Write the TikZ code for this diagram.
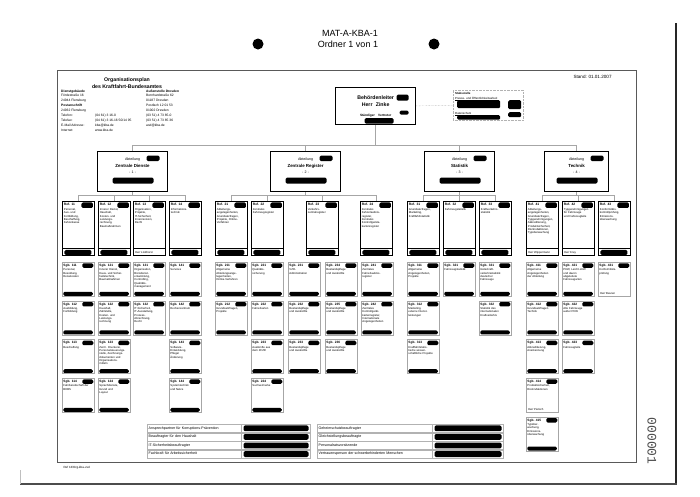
\documentclass[tikz,border=0pt]{standalone}
\usepackage{fontspec}
\setmainfont{Liberation Sans}
\newfontfamily\stampfont{Liberation Mono}
\usetikzlibrary{positioning}

\newcommand{\sgbfont}{\fontsize{2.8}{3.35}\selectfont}
\newcommand{\sgbhead}[1]{{\bfseries\fontsize{3.2}{3.35}\selectfont Sgb. #1}\\[0.9pt]}
\newcommand{\refhead}[1]{{\bfseries\fontsize{3.3}{3.35}\selectfont Ref. #1}\\[1.2pt]}
\newcommand{\divtext}[2]{Abteilung\\{\bfseries\fontsize{4.4}{6.5}\selectfont #1}\\- #2 -}
% redaction blob inside a node, measured from its north west / north corner
\newcommand{\ppblob}[4]{\fill[blob] ([shift={(#1pt,-#2pt)}]path picture bounding box.north west)
  rectangle ([shift={(#3pt,-#4pt)}]path picture bounding box.north west);}
\newcommand{\ppblobn}[4]{\fill[blob] ([shift={(#1pt,-#2pt)}]path picture bounding box.north)
  rectangle ([shift={(#3pt,-#4pt)}]path picture bounding box.north);}

\tikzset{
  blob/.style={fill=black, rounded corners=1.4pt},
  conn/.style={draw=gray!70, line width=0.45pt},
  addr/.style={anchor=north west, inner sep=0pt, align=left, font=\fontsize{3.3}{4.9}\selectfont},
  signame/.style={anchor=south west, inner sep=0pt, font=\fontsize{2.8}{3}\selectfont},
  bossbox/.style={draw, line width=1.3pt, anchor=north west, text width=76pt, inner sep=2pt,
    text height=9.5pt, text depth=23.5pt, align=center, font=\bfseries,
    path picture={\ppblob{61}{7}{73}{13}\ppblob{64}{23}{73}{27}\ppblob{29}{30.5}{58}{36}}},
  stabbox/.style={draw=gray!60, densely dotted, anchor=north west, text width=66pt, inner sep=2pt,
    text height=2.5pt, text depth=23.5pt, align=left, font=\fontsize{2.9}{4.5}\selectfont,
    path picture={\ppblob{4}{10}{47}{18}\ppblob{55}{10}{68}{19}\ppblob{4}{25}{47}{29.5}\ppblob{55}{22}{68}{27}}},
  divbox/.style={draw, line width=1.1pt, anchor=north west, text width=#1, inner sep=2pt,
    text height=7pt, text depth=29pt, align=center, font=\fontsize{3.6}{6.5}\selectfont,
    path picture={\ppblobn{14}{4}{27}{9.5}\ppblobn{-20}{26}{21}{32}}},
  divbox/.default=66pt,
  refbase/.style={draw, line width=0.9pt, anchor=north west, text width=29pt, inner sep=1.5pt,
    text height=3pt, text depth=48pt, align=left, font=\sgbfont},
  refname/.style={refbase, path picture={
      \ppblob{19}{1}{30.5}{6.5}
      \draw[line width=0.7pt] ([yshift=7pt]path picture bounding box.south west) -- ([yshift=7pt]path picture bounding box.south east);}},
  refbox/.style={refbase, path picture={
      \ppblob{19}{1}{30.5}{6.5}
      \draw[line width=0.7pt] ([yshift=7pt]path picture bounding box.south west) -- ([yshift=7pt]path picture bounding box.south east);
      \ppblob{2}{48.5}{29}{53.5}}},
  sgbbase/.style={draw=gray!70, line width=0.5pt, anchor=north west, text width=29.6pt, inner sep=1.2pt,
    text height=3pt, text depth=28.6pt, align=left, font=\sgbfont},
  sgbname/.style={sgbbase, path picture={\ppblob{20}{1}{31}{5.5}}},
  sgbbox/.style={sgbbase, path picture={\ppblob{20}{1}{31}{5.5}\ppblob{1}{29.5}{30.5}{33.5}}},
  tabcell/.style={draw=gray!60, line width=0.35pt, anchor=north west, inner xsep=1.5pt, inner ysep=0pt,
    text width=#1, minimum height=8.25pt, text height=2.6pt, text depth=0.9pt, align=left,
    font=\fontsize{3.6}{4}\selectfont},
  tabred/.style={draw=gray!60, line width=0.35pt, minimum width=#1, minimum height=8.25pt, inner sep=0pt,
    path picture={\fill[blob] ([shift={(2pt,-1.2pt)}]path picture bounding box.north west)
      rectangle ([shift={(-2pt,1.2pt)}]path picture bounding box.south east);}},
}

\begin{document}
\begin{tikzpicture}[x=1pt, y=-1pt]
  \fill[white] (0,0) rectangle (700,496);
  \useasboundingbox (0,0) rectangle (700,496);

  % scan edges and punch holes
  \draw[line width=1.8pt, black!85] (676,23) -- (676,484);
  \draw[line width=1.4pt, black!70] (20,484) -- (677,484);
  \draw[gray!50, line width=0.5pt] (20,470) -- (20,484);
  \fill (258,44) circle (5.5pt);
  \fill (434,44) circle (5.5pt);
  \node[font=\fontsize{9}{10}\selectfont] (matnr) at (350,33) {MAT-A-KBA-1};
  \node[font=\fontsize{9}{10}\selectfont] (ordner) at (348,44) {Ordner 1 von 1};
  \node[font=\stampfont\fontsize{13}{13}\selectfont, rotate=-90, text=black!70] (stamp) at (652,441) {000001};

  % sheet frame
  \draw[black!65, line width=0.7pt] (57,70) rectangle (636,462);
  \node[anchor=west, font=\fontsize{4.6}{5}\selectfont] (stand) at (570,77) {Stand: 01.01.2007};
  \node[font=\bfseries\fontsize{5.2}{7}\selectfont, align=center] (orgtitle) at (127,83.5) {Organisationsplan\\des Kraftfahrt-Bundesamtes};
  \node[addr] (addrhq) at (61,89.5) {\textbf{Dienstgebäude}\\Fördestraße 16\\24944 Flensburg\\\textbf{Postanschrift}\\24932 Flensburg\\Telefon:\\Telefax:\\E-Mail Adresse:\\Internet:};
  \node[addr] (addrtel) at (95,114) {(04 61) 3 16-0\\(04 61) 3 16-16 50/14 95\\kba@kba.de\\www.kba.de};
  \node[addr] (addrdd) at (146,89.5) {\textbf{Außenstelle Dresden}\\Bernhardstraße 62\\01187 Dresden\\Postfach 12 01 53\\01002 Dresden\\(03 51) 4 73 85-0\\(03 51) 4 73 85 36\\asd@kba.de};

  % head of authority and staff unit
  \node[bossbox] (boss) at (335,87) {\fontsize{5.2}{7.5}\selectfont Behördenleiter\\Herr Zinke\\[-2pt]\fontsize{3.2}{7.5}\selectfont Ständiger Vertreter};
  \node[stabbox] (stab) at (453,90) {\textbf{Stabsstelle}\\\underline{Presse- und Öffentlichkeitsarbeit}\\[10.5pt]\underline{Datenschutz}};
  \draw[conn, densely dotted] (boss) -- (stab);

  % divisions
  \node[divbox] (zd) at (97,151) {\divtext{Zentrale Dienste}{1}};
  \node[divbox] (zr) at (270,151) {\divtext{Zentrale Register}{2}};
  \node[divbox] (st) at (424,151) {\divtext{Statistik}{3}};
  \node[divbox=60pt] (tk) at (544,151) {\divtext{Technik}{4}};

  \coordinate (topbus) at (0,145);
  \draw[conn] (zd.north) -- (zd.north |- topbus) -- (tk.north |- topbus) -- (tk.north);
  \foreach \d in {boss.south, zr.north, st.north}
    \draw[conn] (\d) -- (\d |- topbus);

  % Referate
  \node[refbox] (r11) at (62,201) {\refhead{11}Personal,\\Aus- und\\Fortbildung,\\Beschaffung,\\Fahrerkasse};
  \node[refbox] (r12) at (98,201) {\refhead{12}Innerer Dienst,\\Haushalt,\\Kosten- und\\Leistungs-\\rechnung,\\Baumaßnahmen};
  \node[refname] (r13) at (133,201) {\refhead{13}Organisation,\\Projekte,\\IT-Sicherheit,\\Innenrevision,\\Recht};
  \node[refbox] (r14) at (169,201) {\refhead{14}Informations-\\technik};
  \node[refbox] (r21) at (215,201) {\refhead{21}Abteilungs-\\angelegenheiten,\\Grundsatzfragen,\\Projekte, Online-\\Verfahren};
  \node[refbox] (r22) at (251,201) {\refhead{22}Zentrales\\Fahrzeugregister};
  \node[refbox] (r23) at (306,201) {\refhead{23}Verkehrs-\\zentralregister};
  \node[refbox] (r24) at (360,201) {\refhead{24}Zentrales\\Fahrerlaubnis-\\register,\\Zentrales\\Kontrollgeräte-\\kartenregister};
  \node[refbox] (r31) at (407,201) {\refhead{31}Grundsatzfragen,\\Marketing,\\Kraftfahrtstatistik};
  \node[refbox] (r32) at (443,201) {\refhead{32}Fahrzeugstatistik};
  \node[refbox] (r33) at (479,201) {\refhead{33}Kraftverkehrs-\\statistik};
  \node[refname] (r41) at (526,201) {\refhead{41}Abteilungs-\\angelegenheiten,\\Grundsatzfragen,\\Typgenehmigungen,\\Akkreditierung,\\Produktsicherheit,\\Rückrufaktionen,\\Typüberwachung};
  \node[refname] (r42) at (562,201) {\refhead{42}Typgenehmigungen\\für Fahrzeuge\\und Fahrzeugteile};
  \node[refbox] (r43) at (598,201) {\refhead{43}Konformitäts-\\kontrollprüfung,\\Emissions-\\überwachung};
  \node[signame] (r13sign) at ([shift={(1.8pt,1.8pt)}]r13.south west) {Herr Lindhorst};
  \node[signame] (r41sign) at ([shift={(1.8pt,1.8pt)}]r41.south west) {Herr Wippermann};
  \node[signame] (r42sign) at ([shift={(1.8pt,1.8pt)}]r42.south west) {Herr Krey};

  \coordinate (refbus) at (0,195);
  \draw[conn] (r11.north) -- (r11.north |- refbus) -- (r14.north |- refbus) -- (r14.north);
  \draw[conn] (r21.north) -- (r21.north |- refbus) -- (r24.north |- refbus) -- (r24.north);
  \draw[conn] (r31.north) -- (r31.north |- refbus) -- (r33.north |- refbus) -- (r33.north);
  \draw[conn] (r41.north) -- (r41.north |- refbus) -- (r43.north |- refbus) -- (r43.north);
  \foreach \d in {zd.south, zr.south, st.south, tk.south, r12.north, r13.north, r22.north, r23.north, r32.north, r42.north}
    \draw[conn] (\d) -- (\d |- refbus);

  % Sachgebiete, Abteilung 1
  \node[sgbbox] (s111) at (62,262) {\sgbhead{111}Personal,\\Besoldung,\\Reisekosten};
  \node[sgbbox, below=4.2pt of s111] (s112) {\sgbhead{112}Ausbildung,\\Fortbildung};
  \node[sgbbox, below=4.2pt of s112] (s113) {\sgbhead{113}Beschaffung};
  \node[sgbbox, below=4.2pt of s113] (s114) {\sgbhead{114}Fahrbereitschaft der\\BHBS};
  \node[sgbbox] (s121) at (98,262) {\sgbhead{121}Innerer Dienst,\\Haus- und Sicher-\\heitstechnik,\\Baumaßnahmen};
  \node[sgbbox, below=4.2pt of s121] (s122) {\sgbhead{122}Haushalt,\\Zahlstelle,\\Kosten- und\\Leistungs-\\rechnung};
  \node[sgbbox, below=4.2pt of s122] (s123) {\sgbhead{123}Zentr. Druckerei,\\Personalsteuerungs-\\stelle, Zeichnungs-\\dokumenten und\\Organisations-\\mitteln};
  \node[sgbbox, below=4.2pt of s123] (s124) {\sgbhead{124}Sprachdienste,\\Grund und\\Layout};
  \node[sgbbox] (s131) at (133,262) {\sgbhead{131}Organisation,\\Bürodienst-\\entwicklung,\\Controlling,\\Qualitäts-\\management};
  \node[sgbbox, below=4.2pt of s131] (s132) {\sgbhead{132}IT-Sicherheit,\\IT-Ausstattung,\\Prozess-\\Abrechnung,\\Recht};
  \node[sgbbox] (s141) at (169,262) {\sgbhead{141}Services};
  \node[sgbbox, below=4.2pt of s141] (s142) {\sgbhead{142}Rechenzentrum};
  \node[sgbbox, below=4.2pt of s142] (s143) {\sgbhead{143}Software-\\Entwicklung,\\Pflege/\\Änderung};
  \node[sgbbox, below=4.2pt of s143] (s144) {\sgbhead{144}Systemtechnik\\und Netze};

  % Sachgebiete, Abteilung 2
  \node[sgbbox] (s211) at (215,262) {\sgbhead{211}Allgemeine\\Abteilungsange-\\legenheiten,\\Online-Verfahren};
  \node[sgbbox, below=4.2pt of s211] (s212) {\sgbhead{212}Grundsatzfragen,\\Projekte};
  \node[sgbbox] (s221) at (251,262) {\sgbhead{221}Qualitäts-\\sicherung};
  \node[sgbbox, below=4.2pt of s221] (s222) {\sgbhead{222}Fahrerkarten};
  \node[sgbbox, below=4.2pt of s222] (s223) {\sgbhead{223}Auskünfte aus\\dem ZFZR};
  \node[sgbbox, below=4.2pt of s223] (s224) {\sgbhead{224}Suchvermerke};
  \node[sgbbox] (s231) at (288,262) {\sgbhead{231}VZR-\\Administration};
  \node[sgbbox, below=4.2pt of s231] (s232) {\sgbhead{232}Bestandspflege\\und Auskünfte};
  \node[sgbbox, below=4.2pt of s232] (s233) {\sgbhead{233}Bestandspflege\\und Auskünfte};
  \node[sgbbox] (s234) at (325,262) {\sgbhead{234}Bestandspflege\\und Auskünfte};
  \node[sgbbox, below=4.2pt of s234] (s235) {\sgbhead{235}Bestandspflege\\und Auskünfte};
  \node[sgbbox, below=4.2pt of s235] (s236) {\sgbhead{236}Bestandspflege\\und Auskünfte};
  \node[sgbbox] (s241) at (361,262) {\sgbhead{241}Zentrales\\Fahrerlaubnis-\\register};
  \node[sgbbox, below=4.2pt of s241] (s242) {\sgbhead{242}Zentrales\\Kontrollgerät-\\kartenregister,\\Internationale\\Angelegenheiten};

  % Sachgebiete, Abteilung 3
  \node[sgbbox] (s311) at (407,262) {\sgbhead{311}Allgemeine\\Angelegenheiten,\\Projekte};
  \node[sgbbox, below=4.2pt of s311] (s312) {\sgbhead{312}Marketing,\\externe Dienst-\\leistungen};
  \node[sgbbox, below=4.2pt of s312] (s313) {\sgbhead{313}Kraftfahrtstatis-\\tische wissen-\\schaftliche Projekte};
  \node[sgbbox] (s321) at (443,262) {\sgbhead{321}Fahrzeugstatistik};
  \node[sgbbox] (s331) at (479,262) {\sgbhead{331}Güterkraft-\\verkehrsstatistik\\deutscher\\Fahrzeuge};
  \node[sgbbox, below=4.2pt of s331] (s332) {\sgbhead{332}Statistik des\\internationalen\\Kraftverkehrs};

  % Sachgebiete, Abteilung 4
  \node[sgbbox] (s411) at (526,262) {\sgbhead{411}Allgemeine\\Angelegenheiten\\der Abteilung};
  \node[sgbbox, below=4.2pt of s411] (s412) {\sgbhead{412}Grundsatzfragen\\Technik};
  \node[sgbbox, below=4.2pt of s412] (s413) {\sgbhead{413}Akkreditierung,\\Anerkennung};
  \node[sgbname, below=4.2pt of s413] (s414) {\sgbhead{414}Produktsicherheit,\\Rückrufaktionen};
  \node[sgbbox, below=4.2pt of s414] (s415) {\sgbhead{415}Typüber-\\wachung,\\Emissions-\\überwachung};
  \node[sgbbox] (s421) at (562,262) {\sgbhead{421}PKW, Leicht-LKW\\und davon\\abgeleitete\\Fahrzeugarten};
  \node[sgbbox, below=4.2pt of s421] (s422) {\sgbhead{422}Alle Fahrzeuge\\außer PKW};
  \node[sgbbox, below=4.2pt of s422] (s423) {\sgbhead{423}Fahrzeugteile};
  \node[sgbname] (s431) at (598,262) {\sgbhead{431}Konformitäts-\\prüfung};
  \node[signame] (s414sign) at ([shift={(1.8pt,1.8pt)}]s414.south west) {Herr Pietsch};
  \node[signame] (s431sign) at ([shift={(1.8pt,1.8pt)}]s431.south west) {Herr Beuren};

  % Beauftragte
  \node[tabcell=91pt] (kp) at (147,424) {Ansprechpartner für Korruptions-Prävention};
  \node[tabcell=91pt, below=0pt of kp] (hh) {Beauftragter für den Haushalt};
  \node[tabcell=91pt, below=0pt of hh] (its) {IT-Sicherheitsbeauftragter};
  \node[tabcell=91pt, below=0pt of its] (fa) {Fachkraft für Arbeitssicherheit};
  \foreach \c in {kp, hh, its, fa}
    \node[tabred=69pt, right=0pt of \c] (\c red) {};
  \node[tabcell=112pt] (gs) at (317,424) {Geheimschutzbeauftragter};
  \node[tabcell=112pt, below=0pt of gs] (gb) {Gleichstellungsbeauftragte};
  \node[tabcell=112pt, below=0pt of gb] (pr) {Personalratsvorsitzende};
  \node[tabcell=112pt, below=0pt of pr] (vp) {Vertrauensperson der schwerbehinderten Menschen};
  \foreach \c in {gs, gb, pr, vp}
    \node[tabred=71pt, right=0pt of \c] (\c red) {};

  \node[anchor=west, font=\fontsize{3}{3.5}\selectfont] (fileref) at (60,468) {Ref 13/Org-kba-vsd};
\end{tikzpicture}
\end{document}
